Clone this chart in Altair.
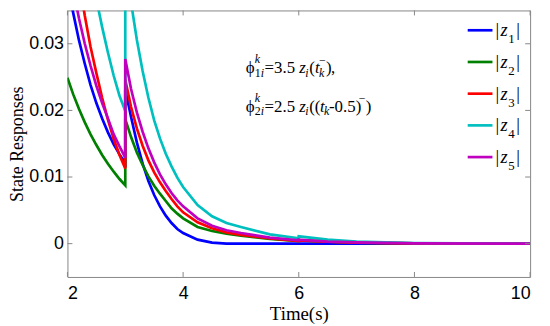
import altair as alt
import pandas as pd

# ---------------- data ----------------
series_names = ["z1", "z2", "z3", "z4", "z5"]
series_colors = ["#0000FF", "#008000", "#FF0000", "#00BFBF", "#BF00BF"]

t_pre = [2.0, 2.1, 2.2, 2.3, 2.4, 2.5, 2.6, 2.7, 2.8, 2.9, 3.0]
t_post = [3.0, 3.1, 3.2, 3.3, 3.4, 3.5, 3.6, 3.7, 3.8, 3.9, 4.0, 4.25, 4.5, 4.75, 5.0, 5.5, 6.0]
t_late = [6.0, 6.5, 7.0, 8.0, 10.0]

z1_pre = [0.0390, 0.0346, 0.0305, 0.0270, 0.0238, 0.0211, 0.0188, 0.0167, 0.0149, 0.0134, 0.0121]
z1_post = [0.0231, 0.0190, 0.0152, 0.0120, 0.0094, 0.0073, 0.0056, 0.0042, 0.0031, 0.0022, 0.0016,
           0.0006, 0.00015, 0.0, 0.0, 0.0, 0.0]
z1_late = [0.0, 0.0, 0.0, 0.0, 0.0]

z2_pre = [0.0249, 0.0224, 0.0202, 0.0182, 0.0164, 0.0148, 0.0133, 0.0120, 0.0108, 0.0097, 0.00875]
z2_post = [0.0187, 0.0160, 0.0137, 0.0118, 0.0101, 0.0087, 0.0075, 0.0064, 0.0053, 0.0045, 0.0038,
           0.0025, 0.0019, 0.0015, 0.0012, 0.0007, 0.0004]
z2_late = [0.0005, 0.0003, 0.00015, 0.00003, 0.0]

z3_pre = [0.0520, 0.0455, 0.0398, 0.0342, 0.0295, 0.0256, 0.0219, 0.0186, 0.0157, 0.0133, 0.0113]
z3_post = [0.0246, 0.0205, 0.0173, 0.0147, 0.0125, 0.0107, 0.0092, 0.0079, 0.0067, 0.0056, 0.0047,
           0.0032, 0.0023, 0.0017, 0.0013, 0.0008, 0.0004]
z3_late = [0.0005, 0.0003, 0.00015, 0.00003, 0.0]

z4_pre = [0.0693, 0.0610, 0.0537, 0.0473, 0.0417, 0.0367, 0.0325, 0.0287, 0.0252, 0.0222, 0.0199]
z4_post = [0.0428, 0.0362, 0.0306, 0.0259, 0.0219, 0.0185, 0.0158, 0.0135, 0.0116, 0.0099, 0.0085,
           0.0058, 0.0041, 0.0031, 0.0025, 0.0014, 0.0008]
z4_late = [0.0011, 0.0006, 0.0003, 0.0001, 0.0]

z5_pre = [0.0430, 0.0381, 0.0338, 0.0300, 0.0267, 0.0237, 0.0211, 0.0188, 0.0164, 0.0146, 0.0129]
z5_post = [0.0277, 0.0232, 0.0197, 0.0168, 0.0143, 0.0122, 0.0104, 0.0089, 0.0076, 0.0065, 0.0056,
           0.0038, 0.0027, 0.0020, 0.0016, 0.0009, 0.0005]
z5_late = [0.0006, 0.0003, 0.0002, 0.00004, 0.0]

x_ticks = [2, 4, 6, 8, 10]
y_ticks = [0, 0.01, 0.02, 0.03]
x_domain = [2, 10]
y_domain = [-0.005, 0.035]

# ---------------- layout ----------------
W, H = 467, 269
PAD_L, PAD_T = 60, 1
AX = "#878787"
SERIF = "Liberation Serif"
SANS = "Liberation Sans"


def px_to_t(px):
    return x_domain[0] + (px - 8 - PAD_L) / W * (x_domain[1] - x_domain[0])


def py_to_v(py):
    return y_domain[1] - (py - 8 - PAD_T) / H * (y_domain[1] - y_domain[0])


# ---------------- build tables ----------------
rows = []
all_series = [
    (z1_pre, z1_post, z1_late),
    (z2_pre, z2_post, z2_late),
    (z3_pre, z3_post, z3_late),
    (z4_pre, z4_post, z4_late),
    (z5_pre, z5_post, z5_late),
]
for name, (pre, post, late) in zip(series_names, all_series):
    idx = 0
    for tt, vv in list(zip(t_pre, pre)) + list(zip(t_post, post)) + list(zip(t_late, late)):
        rows.append({"series": name, "t": tt, "v": vv, "idx": idx})
        idx += 1
lines_df = pd.DataFrame(rows)

# annotation pieces: (text, px, py, size, italic)
y1, y2 = 72, 111
M, S = 17, 12
ann = [
    ("ϕ", 248, y1, M, 0), ("k", 257, y1 - 10, S, 1), ("1", 257, y1 + 4, S, 0),
    ("i", 263, y1 + 4, S, 1), ("=3.5", 267, y1, M, 0), ("z", 302, y1, M, 1),
    ("i", 308, y1 + 4, S, 1), ("(", 312, y1, M, 0), ("t", 318, y1, M, 1),
    ("k", 322, y1 + 4, S, 1), ("−", 322, y1 - 9, S, 0), (")", 329, y1, M, 0),
    (",", 334, y1, M, 0),
    ("ϕ", 248, y2, M, 0), ("k", 257, y2 - 10, S, 1), ("2", 257, y2 + 4, S, 0),
    ("i", 263, y2 + 4, S, 1), ("=2.5", 267, y2, M, 0), ("z", 302, y2, M, 1),
    ("i", 308, y2 + 4, S, 1), ("((", 312, y2, M, 0), ("t", 323, y2, M, 1),
    ("k", 327, y2 + 4, S, 1), ("-0.5)", 332, y2, M, 0), ("−", 362, y2 - 10, S, 0),
    (")", 369, y2, M, 0),
]
# legend
leg_rows = []
for i, name in enumerate(series_names):
    c = 29 + 32 * i
    leg_rows.append({"series": name, "t": px_to_t(472), "t2": px_to_t(497), "v": py_to_v(c)})
    ann += [("|", 500, c + 6, 18.5, 0), ("z", 505, c + 6, 18.5, 1),
            (str(i + 1), 513, c + 13, 13, 0), ("|", 521, c + 6, 18.5, 0)]
leg_df = pd.DataFrame(leg_rows)
ann_df = pd.DataFrame([{"s": s, "t": px_to_t(px), "v": py_to_v(py), "fs": fs, "it": it}
                       for s, px, py, fs, it in ann])

xtick_df = pd.DataFrame({"t": x_ticks})
ytick_df = pd.DataFrame({"v": y_ticks})

# ---------------- encodings ----------------
X = alt.X("t:Q", scale=alt.Scale(domain=x_domain, nice=False, zero=False),
          axis=alt.Axis(values=x_ticks, title="Time(s)", grid=False, domain=False, ticks=False,
                        labelFont=SANS, labelFontSize=18, labelColor="black", labelPadding=8,
                        titleFont=SERIF, titleFontSize=19, titleFontWeight="normal",
                        titleColor="black", titlePadding=2))
Y = alt.Y("v:Q", scale=alt.Scale(domain=y_domain, nice=False, zero=False),
          axis=alt.Axis(values=y_ticks, format=".2~f", title="State Responses", grid=False,
                        domain=False, ticks=False, labelFont=SANS, labelFontSize=18,
                        labelColor="black", labelPadding=4, titleFont=SERIF, titleFontSize=18,
                        titleFontWeight="normal", titleColor="black", titlePadding=2))
C = alt.Color("series:N", scale=alt.Scale(domain=series_names, range=series_colors), legend=None)

lines = alt.Chart(lines_df).mark_line(clip=True, strokeWidth=2.7).encode(
    x=X, y=Y, color=C, order="idx:Q")

tick_b = alt.Chart(xtick_df).mark_rule(color=AX, strokeWidth=1).encode(
    x=X, y=alt.value(H), y2=alt.value(H - 5))
tick_t = alt.Chart(xtick_df).mark_rule(color=AX, strokeWidth=1).encode(
    x=X, y=alt.value(0), y2=alt.value(5))
tick_l = alt.Chart(ytick_df).mark_rule(color=AX, strokeWidth=1).encode(
    y=Y, x=alt.value(0), x2=alt.value(5))
tick_r = alt.Chart(ytick_df).mark_rule(color=AX, strokeWidth=1).encode(
    y=Y, x=alt.value(W), x2=alt.value(W - 5))

leg_lines = alt.Chart(leg_df).mark_rule(strokeWidth=2.7).encode(
    x=X, x2="t2:Q", y=Y, color=C)

txt_up = alt.Chart(ann_df).transform_filter("datum.it == 0").mark_text(
    font=SERIF, align="left", baseline="alphabetic", color="black").encode(
    x=X, y=Y, text="s:N", size=alt.Size("fs:Q", scale=None, legend=None))
txt_it = alt.Chart(ann_df).transform_filter("datum.it == 1").mark_text(
    font=SERIF, fontStyle="italic", align="left", baseline="alphabetic", color="black").encode(
    x=X, y=Y, text="s:N", size=alt.Size("fs:Q", scale=None, legend=None))

chart = alt.layer(lines, tick_b, tick_t, tick_l, tick_r, leg_lines, txt_up, txt_it).properties(
    width=W, height=H,
    autosize=alt.AutoSizeParams(type="none"),
    padding={"left": PAD_L, "top": PAD_T, "right": 12, "bottom": 46},
).configure_view(stroke=AX, strokeWidth=1)

chart.save("out.html", embed_options={"renderer": "svg", "actions": False})
